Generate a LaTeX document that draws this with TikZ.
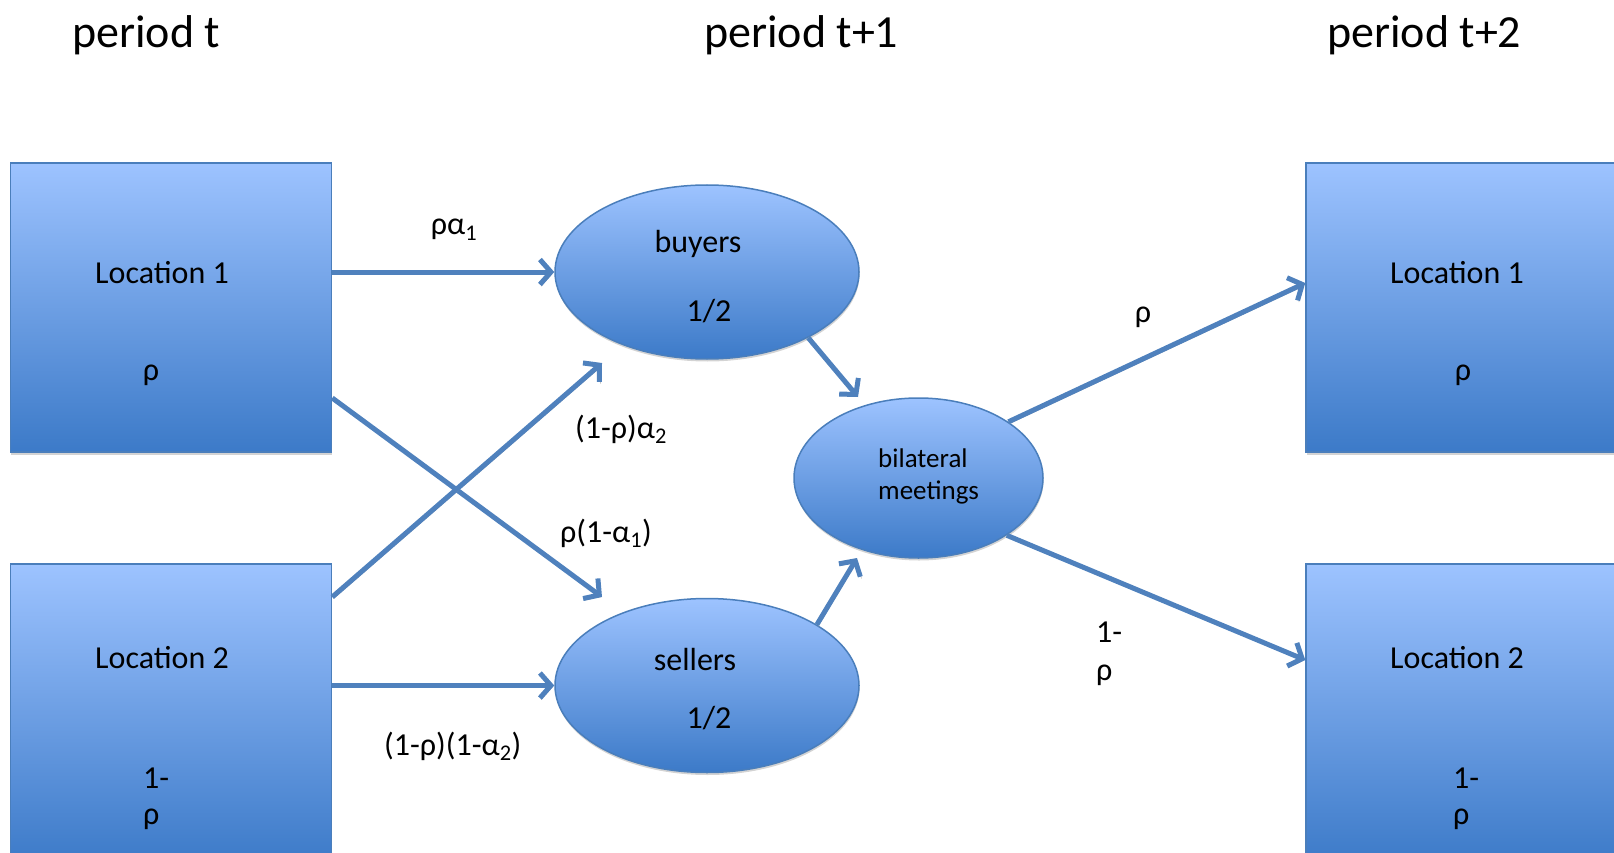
\documentclass[tikz,border=0pt]{standalone}
\usepackage{fontspec}
\setmainfont{Carlito}
\usepackage{tikz}
\usetikzlibrary{arrows.meta}
\usetikzlibrary{calc,positioning,shapes.geometric,shadows}

\definecolor{fillhi}{RGB}{157,195,255}
\definecolor{filllo}{RGB}{60,122,200}
\definecolor{rim}{RGB}{74,126,187}
\definecolor{flowblue}{RGB}{79,129,189}

\tikzset{
	locbox/.style={rectangle, draw=rim, line width=1.5pt, top color=fillhi, bottom color=filllo,
		minimum width=321pt, minimum height=289pt, inner sep=0pt,
		drop shadow={shadow xshift=0.5pt, shadow yshift=-2.5pt, opacity=0.35}},
	pool/.style={ellipse, draw=rim, line width=1.5pt, top color=fillhi, bottom color=filllo,
		minimum width=304pt, minimum height=174pt, inner sep=0pt,
		drop shadow={shadow xshift=0.5pt, shadow yshift=-2.5pt, opacity=0.35}},
	flow/.style={draw=flowblue, line width=5pt, -{Straight Barb[length=11pt,width=25pt]},
		preaction={draw=black!35, transform canvas={shift={(1.2pt,-1.8pt)}}}},
	txt/.style={inner sep=0pt, anchor=base, font=\fontsize{32}{38}\selectfont},
	smalltxt/.style={inner sep=0pt, font=\fontsize{27}{32}\selectfont},
	ttl/.style={inner sep=0pt, anchor=base west, font=\fontsize{46}{55}\selectfont}
}

\begin{document}
\begin{tikzpicture}[x=1pt,y=-1pt]
	\path[use as bounding box] (0,0) rectangle (1614,853);
	\clip (0,0) rectangle (1614,853);

	% periods
	\node[ttl] (per0) at (72,48) {period t};
	\node[ttl] (per1) at (704,48) {period t+1};
	\node[ttl] (per2) at (1327,48) {period t+2};

	% locations
	\node[locbox] (loc1a) at (171,307.5) {};
	\node[locbox, minimum height=300pt] (loc2a) at (171,714) {};
	\node[locbox] (loc1b) at (1466.5,307.5) {};
	\node[locbox, minimum height=300pt] (loc2b) at (1466.5,714) {};

	\node[txt] (loc1a-name) at (162,283) {Location 1};
	\node[txt] (loc1a-share) at (151,380) {ρ};
	\node[txt] (loc2a-name) at (162,668) {Location 2};
	\node[txt, align=left, anchor=base west] (loc2a-share) at (143,824) {1-\\[-2pt]ρ};
	\node[txt] (loc1b-name) at (1457,283) {Location 1};
	\node[txt] (loc1b-share) at (1463,380) {ρ};
	\node[txt] (loc2b-name) at (1457,668) {Location 2};
	\node[txt, align=left, anchor=base west] (loc2b-share) at (1453,824) {1-\\[-2pt]ρ};

	% buyers, sellers, meetings
	\node[pool] (buy) at (707,272) {};
	\node[pool] (sell) at (707,685.5) {};
	\node[pool, minimum width=249pt, minimum height=160pt] (meet) at (918.5,478) {};

	\node[txt] (buy-name) at (698,252) {buyers};
	\node[txt] (buy-share) at (709,321) {1/2};
	\node[txt] (sell-name) at (695,670) {sellers};
	\node[txt] (sell-share) at (709,728) {1/2};
	\node[smalltxt, align=left, anchor=base west] (meet-name) at (878,499) {bilateral\\meetings};

	% free ends
	\coordinate (tosell) at (602,597);
	\coordinate (tobuy) at (602,363);
	\coordinate (meetin1) at (858,397);
	\coordinate (meetin2) at (857,558);
	\coordinate (back1) at ($(loc1b.west)+(0,-24.5)$);
	\coordinate (back2) at ($(loc2b.west)+(0,-54)$);

	\draw[flow] (loc1a.east |- buy.west) -- (buy.west);
	\draw[flow] (loc2a.east |- sell.west) -- (sell.west);
	\draw[flow] ($(loc1a.east)+(0,90.5)$) -- (tosell);
	\draw[flow] ($(loc2a.east)+(0,-117)$) -- (tobuy);
	\draw[flow] (buy.-33) -- (meetin1);
	\draw[flow] (sell.29) -- (meetin2);
	\draw[flow] (meet.32) -- (back1);
	\draw[flow] (meet.-33) -- (back2);

	% shares on the arrows
	\node[txt] (l-stay1) at (454,235) {ρα\textsubscript{1}};
	\node[txt, anchor=base west] (l-move2) at (575,438) {(1-ρ)α\textsubscript{2}};
	\node[txt, anchor=base west] (l-move1) at (560,542) {ρ(1-α\textsubscript{1})};
	\node[txt, anchor=base west] (l-stay2) at (384,755) {(1-ρ)(1-α\textsubscript{2})};
	\node[txt] (l-back1) at (1143,322) {ρ};
	\node[txt, align=left, anchor=base west] (l-back2) at (1096,680) {1-\\ρ};
\end{tikzpicture}
\end{document}
